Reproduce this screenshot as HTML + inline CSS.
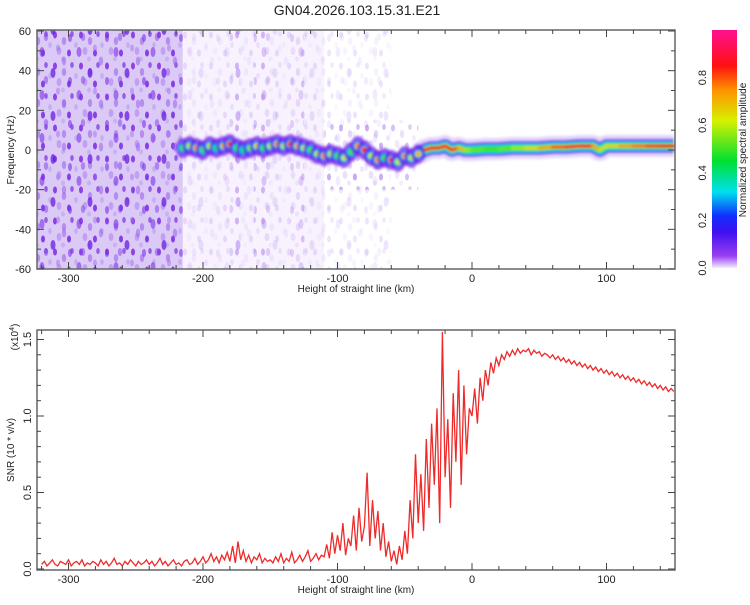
<!DOCTYPE html>
<html><head><meta charset="utf-8"><style>
body{margin:0;background:#fff;width:750px;height:600px;overflow:hidden;font-family:"Liberation Sans",sans-serif}
svg text{font-family:"Liberation Sans",sans-serif;fill:#222}
</style></head><body>
<svg id="c" width="750" height="600" viewBox="0 0 750 600" xmlns="http://www.w3.org/2000/svg">
<defs>
<pattern id="noise" width="26" height="31" patternUnits="userSpaceOnUse">
<ellipse cx="3" cy="4" rx="2" ry="3.5" fill="#7a1fe0" opacity="0.8"/>
<ellipse cx="12" cy="10" rx="2.2" ry="4" fill="#8a40e8" opacity="0.45"/>
<ellipse cx="20" cy="3" rx="1.8" ry="3" fill="#6a10e0" opacity="0.6"/>
<ellipse cx="7" cy="20" rx="2.4" ry="4" fill="#9a60ee" opacity="0.4"/>
<ellipse cx="17" cy="22" rx="2" ry="3.5" fill="#6a10e0" opacity="0.75"/>
<ellipse cx="24" cy="14" rx="1.8" ry="3" fill="#b090f0" opacity="0.5"/>
<ellipse cx="11" cy="28" rx="2" ry="2.5" fill="#b090f0" opacity="0.45"/>
</pattern>
<pattern id="noise2" width="37" height="43" patternUnits="userSpaceOnUse">
<ellipse cx="5" cy="9" rx="2.5" ry="5" fill="#7a30e8" opacity="0.6"/>
<ellipse cx="16" cy="30" rx="2.5" ry="5" fill="#6010e0" opacity="0.7"/>
<ellipse cx="27" cy="18" rx="2.2" ry="4.5" fill="#9a60ee" opacity="0.55"/>
<ellipse cx="33" cy="38" rx="2" ry="4" fill="#7a30e8" opacity="0.6"/>
<ellipse cx="21" cy="5" rx="2" ry="3.5" fill="#a070f0" opacity="0.5"/>
<ellipse cx="9" cy="37" rx="2.2" ry="4" fill="#8040e8" opacity="0.5"/>
</pattern>
<linearGradient id="cbar" x1="0" y1="1" x2="0" y2="0">
<stop offset="0" stop-color="#f4eefc"/><stop offset="0.05" stop-color="#9a40f0"/>
<stop offset="0.15" stop-color="#4010f0"/><stop offset="0.22" stop-color="#1030ff"/>
<stop offset="0.32" stop-color="#00e0ee"/><stop offset="0.45" stop-color="#00e030"/>
<stop offset="0.62" stop-color="#d8f000"/><stop offset="0.75" stop-color="#ff9000"/>
<stop offset="0.85" stop-color="#ff1010"/><stop offset="1" stop-color="#ff1090"/>
</linearGradient>
<clipPath id="topclip"><rect x="37" y="30" width="638" height="239"/></clipPath>
<clipPath id="botclip"><rect x="37" y="330" width="638" height="240"/></clipPath>
<filter id="blur"><feGaussianBlur stdDeviation="1.2"/></filter>
</defs>
<text x="357" y="15" text-anchor="middle" font-size="14">GN04.2026.103.15.31.E21</text>
<g id="top"></g>
<g id="bot"></g>
<g id="cb"></g>
</svg>
<script>
const NS='http://www.w3.org/2000/svg';
// ---- data ----
const xTicks=[-300,-200,-100,0,100];
const fTicks=[-60,-40,-20,0,20,40,60];
const snrTicks=[0,0.5,1.0,1.5];
const cbTicks=[0,0.2,0.4,0.6,0.8];
const ridgeHeights=[-215,-210,-205,-200,-195,-190,-185,-180,-175,-170,-165,-160,-155,-150,-145,-140,-135,-130,-125,-120,-115,-110,-105,-100,-95,-90,-85,-80,-75,-70,-65,-60,-55,-50,-45,-40];
const ridgeFreqs=[1,2,1,0,2,1,2,3,1,0,1,2,1,2,3,2,3,2,1,0,-2,-3,-2,-3,-4,-1,2,0,-3,-5,-4,-5,-6,-3,-4,-2];
const ridgeAmps=[0.5,0.6,0.75,0.5,0.6,0.4,0.7,0.85,0.5,0.4,0.55,0.65,0.5,0.6,0.75,0.6,0.85,0.7,0.6,0.5,0.6,0.75,0.6,0.5,0.6,0.5,0.75,0.85,0.6,0.75,0.5,0.85,0.6,0.75,0.6,0.7];
const bandHeights=[-40,-35,-30,-25,-20,-15,-10,-5,0,10,20,30,40,50,60,70,80,85,90,95,100,110,120,130,140,150];
const bandFreqs=[-2,0,1,1,2,0,1,0,0,0.5,0.5,1,1,1,1.5,1.5,2,2,2,0,2,2,2,2,2,2];
const bandAmps=[0.6,0.85,0.9,0.85,0.9,0.85,0.8,0.6,0.55,0.5,0.5,0.55,0.6,0.7,0.75,0.85,0.9,0.9,0.85,0.6,0.6,0.7,0.75,0.8,0.85,0.85];
const snrStart=-320, snrStep=2;
const snrValues=[0.03,0.05,0.02,0.04,0.06,0.03,0.02,0.05,0.04,0.03,0.06,0.02,0.04,0.05,0.03,0.06,0.02,0.04,0.03,0.05,0.04,0.02,0.06,0.03,0.05,0.02,0.04,0.07,0.03,0.04,0.02,0.05,0.03,0.06,0.04,0.02,0.05,0.03,0.04,0.06,0.03,0.05,0.02,0.04,0.07,0.03,0.05,0.02,0.04,0.06,0.03,0.04,0.02,0.05,0.06,0.03,0.04,0.07,0.03,0.05,
0.08,0.04,0.06,0.10,0.05,0.08,0.04,0.09,0.06,0.11,0.05,0.15,0.04,0.18,0.06,0.12,0.05,0.09,0.04,0.08,0.06,0.10,0.04,0.07,0.05,
0.06,0.04,0.08,0.05,0.10,0.04,0.07,0.05,0.11,0.04,0.06,0.09,0.05,0.08,0.12,0.05,0.07,0.10,0.06,0.09,
0.08,0.16,0.07,0.24,0.10,0.22,0.12,0.30,0.09,0.20,
0.15,0.35,0.12,0.40,0.18,0.28,0.63,0.15,0.45,0.20,0.38,0.12,0.30,0.08,0.18,
0.05,0.12,0.03,0.15,0.06,
0.25,0.10,0.45,0.20,0.75,0.30,0.62,0.25,0.85,0.40,
0.95,0.55,1.05,0.30,1.55,0.60,0.98,0.40,1.15,0.70,1.30,0.55,1.20,0.75,1.05,
1.00,1.18,0.95,1.25,1.10,1.30,1.20,1.35,1.28,1.38,1.33,1.40,1.37,1.42,1.39,
1.43,1.40,1.44,1.41,1.43,1.42,1.44,1.40,1.43,1.41,1.42,1.39,1.41,1.40,1.38,
1.40,1.37,1.39,1.36,1.38,1.35,1.37,1.34,1.36,1.33,1.35,1.32,1.34,1.31,1.33,1.30,1.32,1.29,1.31,1.28,1.30,1.27,1.29,1.26,1.28,1.25,1.27,1.24,1.26,1.23,1.25,1.22,1.24,1.21,1.23,1.20,1.22,1.19,1.21,1.18,1.20,1.17,1.19,1.16,1.18,1.16];
// ---- scales ----
const X=h=>472+1.345*h;
const YF=f=>150-f*238/120;
const YS=v=>569-153*v;
const YC=a=>268-238*a;
function cmap(a){
  const s=[[0,[244,238,252]],[0.05,[154,64,240]],[0.15,[64,16,240]],[0.22,[16,48,255]],[0.32,[0,224,238]],[0.45,[0,224,48]],[0.62,[216,240,0]],[0.75,[255,144,0]],[0.85,[255,16,16]],[1,[255,16,144]]];
  for(let i=1;i<s.length;i++){if(a<=s[i][0]){const t=(a-s[i-1][0])/(s[i][0]-s[i-1][0]);const c=s[i-1][1].map((v,k)=>Math.round(v+(s[i][1][k]-v)*t));return 'rgb('+c.join(',')+')';}}
  return 'rgb(255,16,144)';
}
function mk(p,tag,at){const e=document.createElementNS(NS,tag);for(const k in at)e.setAttribute(k,at[k]);p.appendChild(e);return e;}
const topG=document.getElementById('top'),botG=document.getElementById('bot'),cbG=document.getElementById('cb');
// ---- spectrogram ----
const tg=mk(topG,'g',{'clip-path':'url(#topclip)'});
mk(tg,'rect',{x:37,y:30,width:638,height:239,fill:'#fff'});
mk(tg,'rect',{x:X(-325),y:30,width:X(-215)-X(-325),height:239,fill:'#dccaf6'});
const nz=[[-325,-215,1],[-215,-110,0.3],[-180,-172,0.55],[-162,-150,0.55],[-135,-125,0.4],[-110,-60,0.15]];
nz.forEach(r=>{const e=mk(tg,'rect',{x:X(r[0]),y:30,width:X(r[1])-X(r[0]),height:239,fill:'url(#noise)',opacity:r[2]});


mk(tg,'rect',{x:X(r[0]),y:30,width:X(r[1])-X(r[0]),height:239,fill:'url(#noise2)',opacity:r[2]});});
mk(tg,'rect',{x:X(-215),y:30,width:X(-110)-X(-215),height:239,fill:'#efe6fb',opacity:0.5});
mk(tg,'rect',{x:X(-110),y:YF(15),width:X(-40)-X(-110),height:YF(-20)-YF(15),fill:'url(#noise)',opacity:0.35});
const rg=mk(tg,'g',{filter:'url(#blur)'});
const lay=[[22,'#d0b8f6',0.6],[14,'#7030e8',0.85],[11,'#1040ff',1],[9,'#00d8e8',1],[6,'#20e040',1]];
lay.forEach(l=>{let d='';bandHeights.forEach((h,i)=>{d+=(i?'L':'M')+X(h)+','+YF(bandFreqs[i]);});
mk(rg,'path',{d:d,fill:'none',stroke:l[1],'stroke-width':l[0],opacity:l[2],'stroke-linejoin':'round'});});
for(let i=1;i<bandHeights.length;i++){const e=mk(rg,'line',{x1:X(bandHeights[i-1]),y1:YF(bandFreqs[i-1]),x2:X(bandHeights[i]),y2:YF(bandFreqs[i]),stroke:cmap((bandAmps[i-1]+bandAmps[i])/2),'stroke-width':3.5,'stroke-linecap':'round'});

}
ridgeHeights.forEach((h,i)=>{const x=X(h),y=YF(ridgeFreqs[i]);
mk(rg,'ellipse',{cx:x,cy:y,rx:7,ry:10,fill:'#7020e8',opacity:0.75});
mk(rg,'ellipse',{cx:x,cy:y,rx:5,ry:5.5,fill:'#1040ff'});
mk(rg,'ellipse',{cx:x,cy:y,rx:4,ry:4,fill:'#00d8e8'});
const e=mk(rg,'circle',{cx:x,cy:y,r:3,fill:cmap(ridgeAmps[i])});

});
function frame(g,y0,y1,name){const e=mk(g,'rect',{x:37,y:y0,width:638,height:y1-y0,fill:'none',stroke:'#666','stroke-width':1.5});

}
function xaxis(g,y0,y1){
 for(let h=-320;h<=150;h+=20){const x=X(h);const maj=h%100===0;const L=maj?7:4;
  mk(g,'line',{x1:x,y1:y1,x2:x,y2:y1-L,stroke:'#444'});mk(g,'line',{x1:x,y1:y0,x2:x,y2:y0+L,stroke:'#444'});}
 xTicks.forEach(t=>{const e=mk(g,'text',{x:X(t),y:y1+13,'text-anchor':'middle','font-size':11});e.textContent=t;
 
 });
 const e=mk(g,'text',{x:356,y:y1+23,'text-anchor':'middle','font-size':10});e.textContent='Height of straight line (km)';
 
 
}
frame(topG,30,269,'spectrogram-frame');xaxis(topG,30,269);
for(let f=-60;f<=60;f+=10){const y=YF(f),L=f%20===0?7:4;mk(topG,'line',{x1:37,y1:y,x2:37+L,y2:y,stroke:'#444'});mk(topG,'line',{x1:675,y1:y,x2:675-L,y2:y,stroke:'#444'});}
fTicks.forEach(t=>{const e=mk(topG,'text',{x:31,y:YF(t)+4,'text-anchor':'end','font-size':11});e.textContent=t;

});
{const e=mk(topG,'text',{transform:'translate(14,150) rotate(-90)','text-anchor':'middle','font-size':10});e.textContent='Frequency (Hz)';

}
// ---- SNR ----
const bg=mk(botG,'g',{'clip-path':'url(#botclip)'});
let d='';snrValues.forEach((v,i)=>{d+=(i?'L':'M')+X(snrStart+i*snrStep).toFixed(1)+','+YS(v).toFixed(1);});
{const e=mk(bg,'path',{d:d,fill:'none',stroke:'#ee2a2a','stroke-width':1.3});

}
frame(botG,330,570,'snr-frame');xaxis(botG,330,570);
for(let v=0;v<=1.5001;v+=0.1){const y=YS(v),L=Math.abs(v*2-Math.round(v*2))<1e-6?7:4;mk(botG,'line',{x1:37,y1:y,x2:37+L,y2:y,stroke:'#444'});mk(botG,'line',{x1:675,y1:y,x2:675-L,y2:y,stroke:'#444'});}
snrTicks.forEach(t=>{const e=mk(botG,'text',{transform:'translate(31,'+YS(t)+') rotate(-90)','text-anchor':'middle','font-size':11});e.textContent=t.toFixed(1);

});
{const e=mk(botG,'text',{transform:'translate(14,450) rotate(-90)','text-anchor':'middle','font-size':10});e.textContent='SNR (10 * v/v)';

}
{const e=mk(botG,'text',{transform:'translate(18,337) rotate(-90)','text-anchor':'middle','font-size':10});e.innerHTML='(x10<tspan dy="-4" font-size="7">4</tspan><tspan dy="4">)</tspan>';

}
// ---- colorbar ----
{const e=mk(cbG,'rect',{x:712,y:30,width:25,height:238,fill:'url(#cbar)'});

}
cbTicks.forEach(t=>{const e=mk(cbG,'text',{transform:'translate(706,'+YC(t)+') rotate(-90)','text-anchor':'middle','font-size':11});e.textContent=t.toFixed(1);

});
{const e=mk(cbG,'text',{transform:'translate(746,150) rotate(-90)','text-anchor':'middle','font-size':10});e.textContent='Normalized spectral amplitude';

}
</script>
</body></html>
